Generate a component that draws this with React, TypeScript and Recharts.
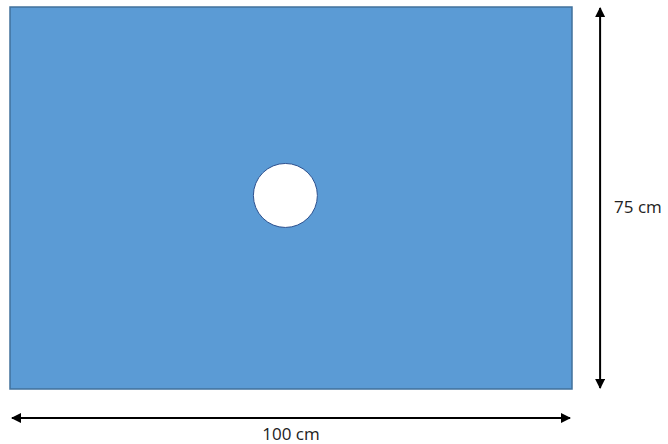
import { ComposedChart, XAxis, YAxis, ReferenceArea, ReferenceLine, Scatter } from "recharts";

// sheet size in cm
const sheetWidth = 100;
const sheetHeight = 75;
const widthLabel = "100 cm";
const heightLabel = "75 cm";

// centre of the hole, in cm from the bottom-left corner
const hole = [{ x: 49, y: 38 }];

// where the dimension arrows sit, outside the sheet (cm)
const heightArrowX = 105;
const widthArrowY = -5.7;

const FONT = "'Open Sans', sans-serif";

function HoleShape(props: any) {
  return <circle cx={props.cx} cy={props.cy} r={32} fill="#ffffff" stroke="#2F528F" strokeWidth={1} />;
}

function HeightArrow(props: any) {
  const { x1, y1, x2, y2 } = props;
  const midY = (y1 + y2) / 2;
  return (
    <g>
      <line x1={x1} y1={y1 + 1} x2={x2} y2={y2 - 1} stroke="#000" strokeWidth={2}
        markerStart="url(#arrowHead)" markerEnd="url(#arrowHead)" />
      <text x={x1 + 14} y={midY + 8} fontFamily={FONT} fontSize={17} fill="#222"
        dominantBaseline="central">{heightLabel}</text>
    </g>
  );
}

function WidthArrow(props: any) {
  const { x1, y1, x2, y2 } = props;
  const midX = (x1 + x2) / 2;
  return (
    <g>
      <line x1={x1 + 2} y1={y1} x2={x2 - 2} y2={y2} stroke="#000" strokeWidth={2}
        markerStart="url(#arrowHead)" markerEnd="url(#arrowHead)" />
      <text x={midX} y={y1 + 15} fontFamily={FONT} fontSize={17} fill="#222"
        textAnchor="middle" dominantBaseline="central">{widthLabel}</text>
    </g>
  );
}

export default function App() {
  return (
    <div style={{ position: "absolute", left: 0, top: 0, width: 668, height: 444, background: "#fff" }}>
      <ComposedChart width={668} height={444} margin={{ top: 7, right: 96, bottom: 55, left: 10 }}>
        <defs>
          <marker id="arrowHead" viewBox="0 0 10 10" refX="9" refY="5" markerWidth="5" markerHeight="5"
            orient="auto-start-reverse" markerUnits="strokeWidth">
            <path d="M0,0 L10,5 L0,10 z" fill="#000" />
          </marker>
        </defs>
        <XAxis type="number" dataKey="x" domain={[0, sheetWidth]} hide allowDataOverflow />
        <YAxis type="number" dataKey="y" domain={[0, sheetHeight]} hide allowDataOverflow />
        <ReferenceArea x1={0} x2={sheetWidth} y1={0} y2={sheetHeight} fill="#5B9BD5" fillOpacity={1}
          stroke="#41719C" strokeWidth={1.5} ifOverflow="visible" />
        <Scatter data={hole} shape={<HoleShape />} isAnimationActive={false} />
        <ReferenceLine segment={[{ x: heightArrowX, y: sheetHeight }, { x: heightArrowX, y: 0 }]}
          ifOverflow="visible" shape={(p: any) => <HeightArrow {...p} />} />
        <ReferenceLine segment={[{ x: 0, y: widthArrowY }, { x: sheetWidth, y: widthArrowY }]}
          ifOverflow="visible" shape={(p: any) => <WidthArrow {...p} />} />
      </ComposedChart>
    </div>
  );
}
